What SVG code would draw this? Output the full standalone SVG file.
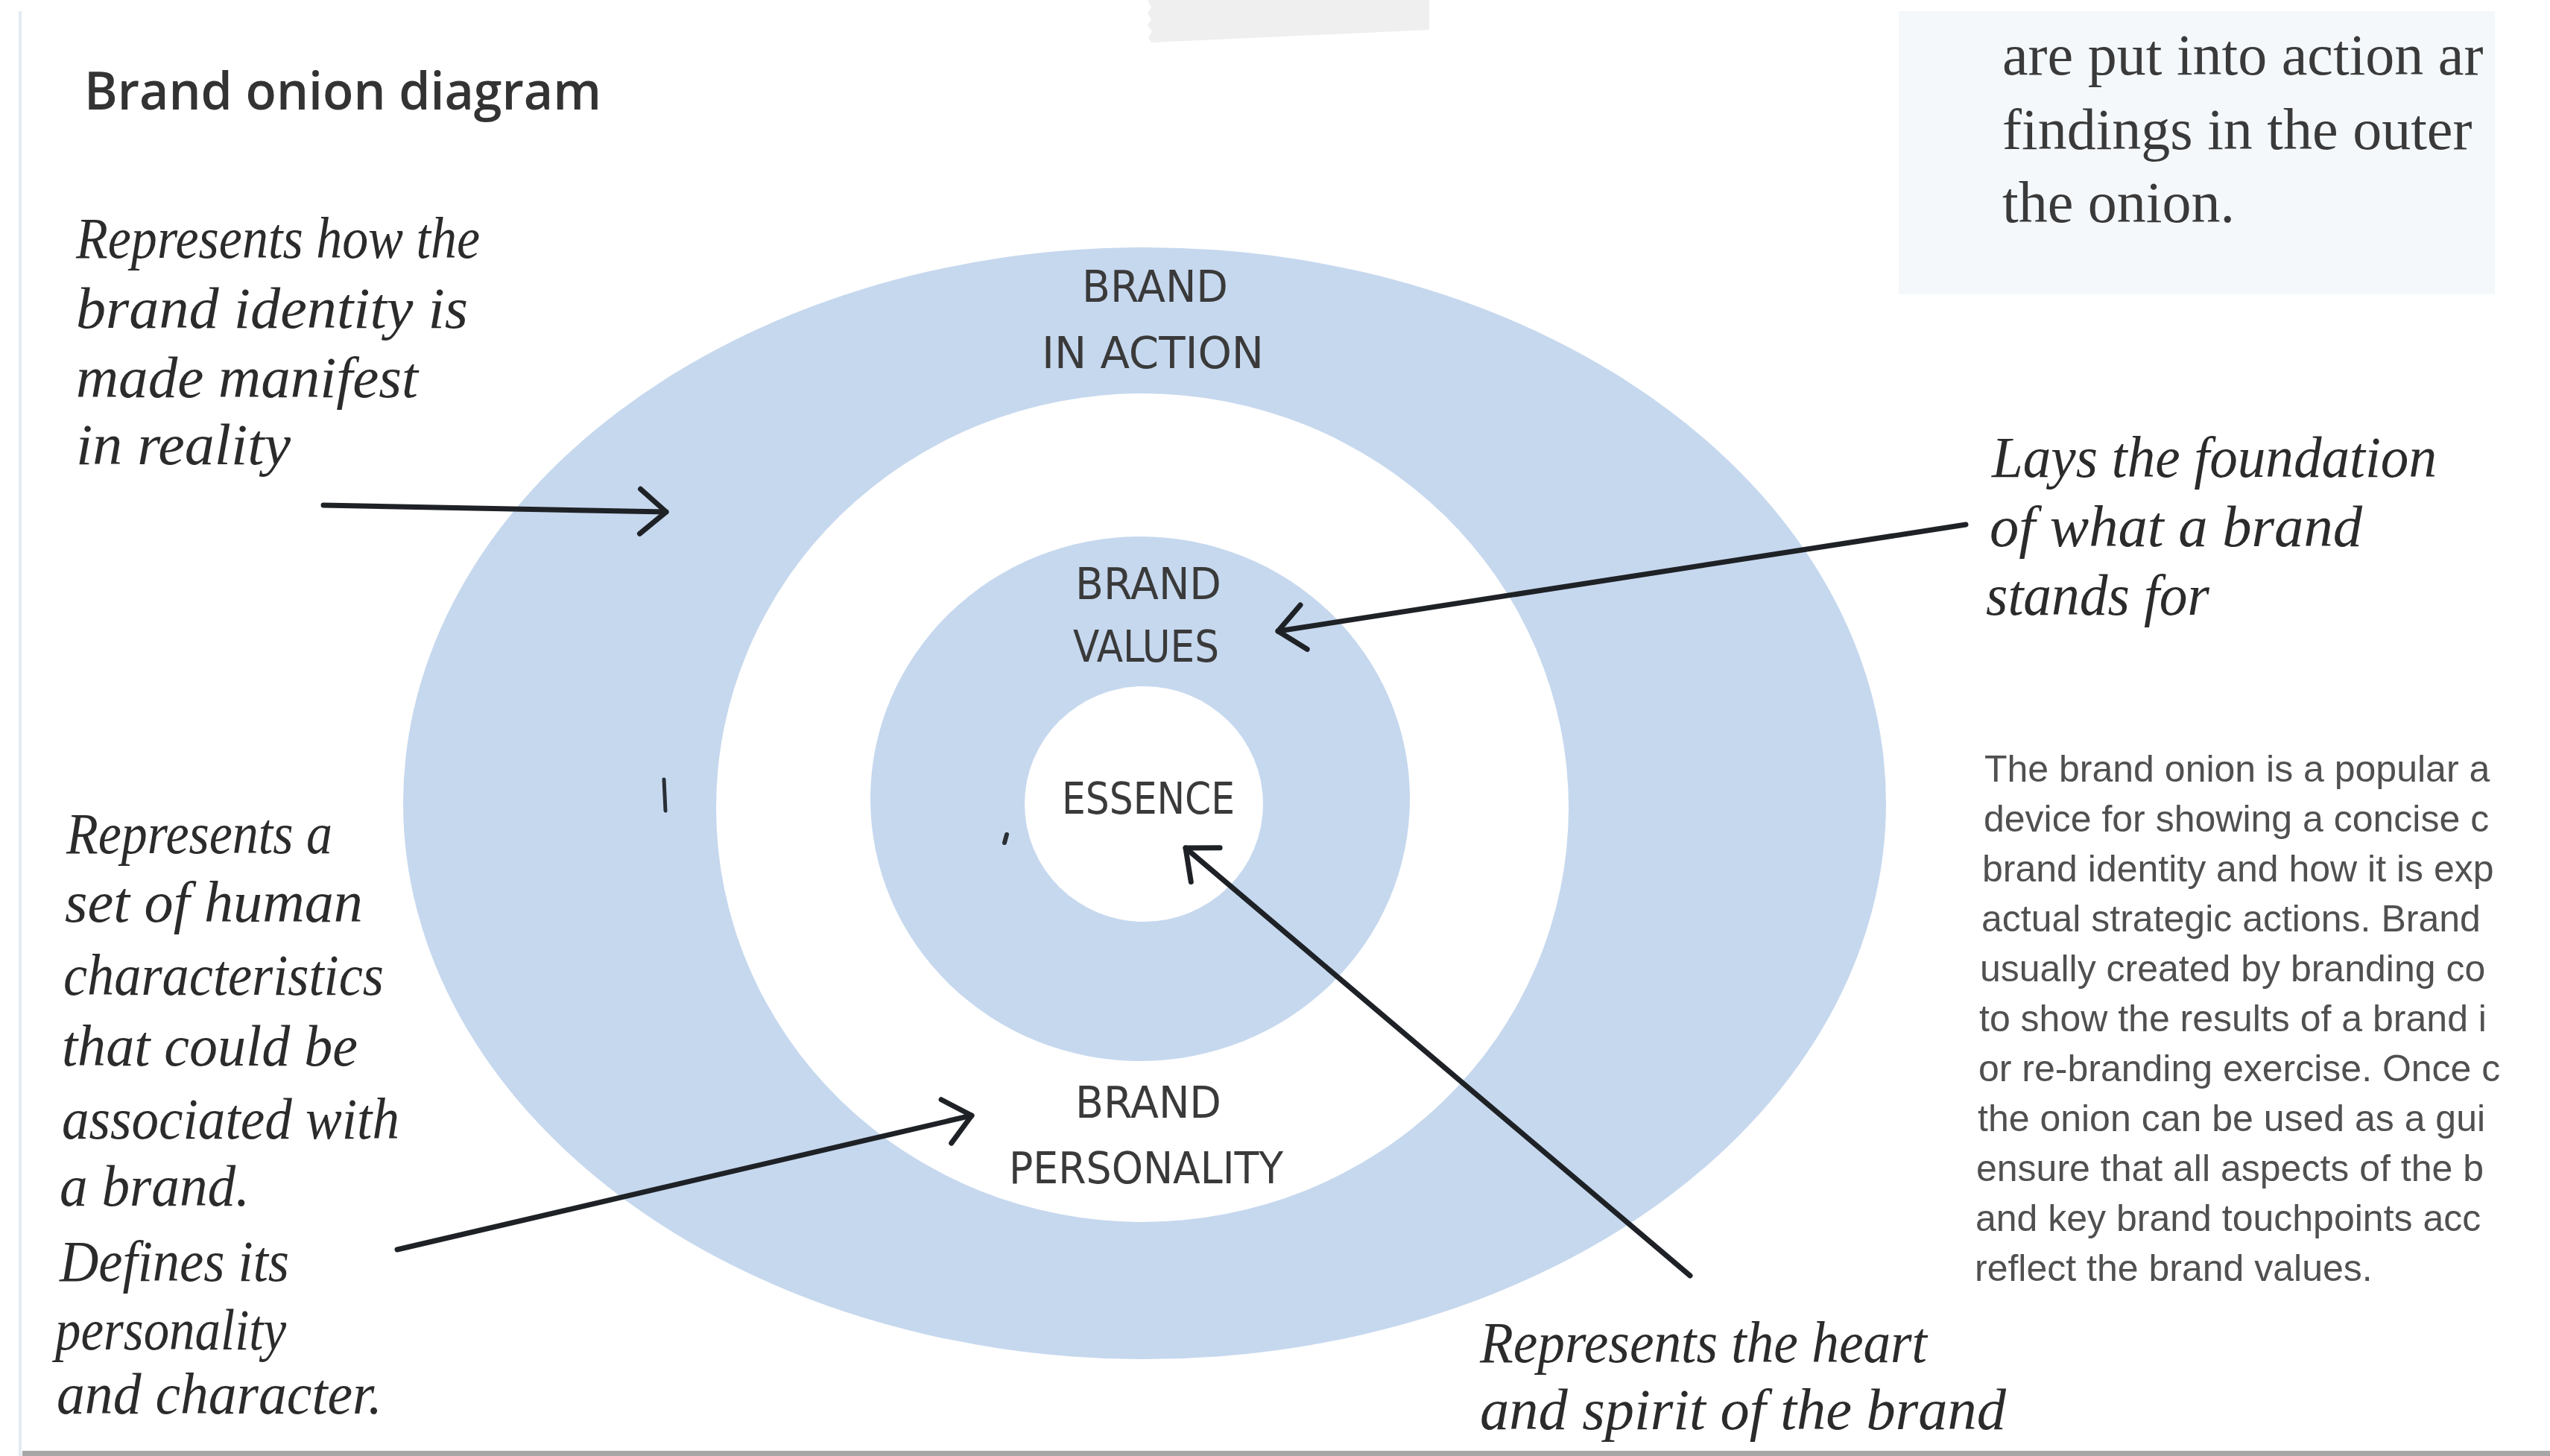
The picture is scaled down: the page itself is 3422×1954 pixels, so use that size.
<svg xmlns="http://www.w3.org/2000/svg" width="3422" height="1954" viewBox="0 0 3422 1954">
  <style>
    .ring { fill: #c6d8ee; }
    .hole { fill: #ffffff; }
    .hand { font-family: "Liberation Serif", "DejaVu Serif", serif; font-style: italic; font-size: 78px; fill: #2b2b2b; }
    .caps { font-family: "Liberation Sans Narrow", "DejaVu Sans Condensed", "Liberation Sans", sans-serif; font-size: 58px; fill: #3a3a3a; text-anchor: middle; }
    .title { font-family: "Open Sans", "Liberation Sans", sans-serif; font-weight: 600; font-size: 70px; fill: #333333; }
    .bookserif { font-family: "Liberation Serif", "DejaVu Serif", serif; font-size: 78px; fill: #3a3a3a; }
    .body { font-family: "Liberation Sans", Arial, sans-serif; font-size: 50px; fill: #505050; }
    .arrow { fill: none; stroke: #1e2226; stroke-width: 7; stroke-linecap: round; marker-end: url(#chevron); }
  </style>
  <defs>
    <marker id="chevron" markerUnits="userSpaceOnUse" markerWidth="90" markerHeight="90" viewBox="-50 -45 60 90" refX="0" refY="0" orient="auto">
      <path d="M -35 -30 L 0 0 L -35 30" fill="none" stroke="#1e2226" stroke-width="7" stroke-linecap="round" stroke-linejoin="round"/>
    </marker>
  </defs>

  <!-- page -->
  <rect x="0" y="0" width="3422" height="1954" fill="#ffffff"/>
  <rect x="25" y="15" width="4" height="1939" fill="#e4ebf2"/>
  <path d="M1540 0 L1918 0 L1918 40 L1545 57 L1541 50 L1546 42 L1540 34 L1545 26 L1540 18 L1545 10 Z" fill="#efefef"/>
  <rect x="30" y="1947" width="3392" height="7" fill="#a6a6a6"/>

  <!-- heading -->
  <g id="title">
    <text class="title" x="113" y="147" textLength="694" lengthAdjust="spacingAndGlyphs">Brand onion diagram</text>
  </g>

  <!-- onion layers -->
  <g id="brand-in-action">
    <ellipse class="ring" cx="1536" cy="1078" rx="995" ry="746"/>
    <text class="caps" x="1550" y="405" textLength="196" lengthAdjust="spacingAndGlyphs">BRAND</text>
    <text class="caps" x="1547" y="494" textLength="298" lengthAdjust="spacingAndGlyphs">IN ACTION</text>
  </g>
  <g id="brand-personality">
    <ellipse class="hole" cx="1533" cy="1084" rx="572" ry="556"/>
    <text class="caps" x="1541" y="1500" textLength="196" lengthAdjust="spacingAndGlyphs">BRAND</text>
    <text class="caps" x="1538" y="1588" textLength="368" lengthAdjust="spacingAndGlyphs">PERSONALITY</text>
  </g>
  <g id="brand-values">
    <ellipse class="ring" cx="1530" cy="1072" rx="362" ry="352"/>
    <text class="caps" x="1541" y="804" textLength="196" lengthAdjust="spacingAndGlyphs">BRAND</text>
    <text class="caps" x="1538" y="888" textLength="196" lengthAdjust="spacingAndGlyphs">VALUES</text>
  </g>
  <g id="essence">
    <ellipse class="hole" cx="1535" cy="1079" rx="160" ry="158"/>
    <text class="caps" x="1541" y="1092" textLength="232" lengthAdjust="spacingAndGlyphs">ESSENCE</text>
  </g>

  <!-- small pen marks on the rings -->
  <path d="M891 1046 L893 1088" stroke="#2a2f35" stroke-width="5" stroke-linecap="round"/>
  <path d="M1351 1120 L1348 1131" stroke="#2a2f35" stroke-width="6" stroke-linecap="round"/>

  <!-- connectors -->
  <g id="connectors">
    <line class="arrow" x1="434" y1="678" x2="894" y2="687"/>
    <line class="arrow" x1="2638" y1="704" x2="1715" y2="847"/>
    <line class="arrow" x1="2268" y1="1712" x2="1591" y2="1138"/>
    <line class="arrow" x1="533" y1="1677" x2="1304" y2="1497"/>
  </g>

  <!-- annotations -->
  <g id="note-action">
    <text class="hand" x="102" y="346" textLength="542" lengthAdjust="spacingAndGlyphs">Represents how the</text>
    <text class="hand" x="102" y="440" textLength="526" lengthAdjust="spacingAndGlyphs">brand identity is</text>
    <text class="hand" x="102" y="533" textLength="459" lengthAdjust="spacingAndGlyphs">made manifest</text>
    <text class="hand" x="102" y="623" textLength="288" lengthAdjust="spacingAndGlyphs">in reality</text>
  </g>
  <g id="note-values">
    <text class="hand" x="2673" y="640" textLength="597" lengthAdjust="spacingAndGlyphs">Lays the foundation</text>
    <text class="hand" x="2670" y="733" textLength="500" lengthAdjust="spacingAndGlyphs">of what a brand</text>
    <text class="hand" x="2665" y="825" textLength="300" lengthAdjust="spacingAndGlyphs">stands for</text>
  </g>
  <g id="note-personality">
    <text class="hand" x="89" y="1145" textLength="357" lengthAdjust="spacingAndGlyphs">Represents a</text>
    <text class="hand" x="87" y="1237" textLength="400" lengthAdjust="spacingAndGlyphs">set of human</text>
    <text class="hand" x="85" y="1335" textLength="430" lengthAdjust="spacingAndGlyphs">characteristics</text>
    <text class="hand" x="83" y="1430" textLength="397" lengthAdjust="spacingAndGlyphs">that could be</text>
    <text class="hand" x="83" y="1528" textLength="453" lengthAdjust="spacingAndGlyphs">associated with</text>
    <text class="hand" x="80" y="1618" textLength="255" lengthAdjust="spacingAndGlyphs">a brand.</text>
    <text class="hand" x="80" y="1719" textLength="308" lengthAdjust="spacingAndGlyphs">Defines its</text>
    <text class="hand" x="74" y="1811" textLength="310" lengthAdjust="spacingAndGlyphs">personality</text>
    <text class="hand" x="76" y="1897" textLength="437" lengthAdjust="spacingAndGlyphs">and character.</text>
  </g>
  <g id="note-essence">
    <text class="hand" x="1986" y="1828" textLength="600" lengthAdjust="spacingAndGlyphs">Represents the heart</text>
    <text class="hand" x="1986" y="1918" textLength="706" lengthAdjust="spacingAndGlyphs">and spirit of the brand</text>
  </g>

  <!-- side panel (top right) -->
  <g id="side-panel">
    <rect x="2548" y="15" width="800" height="380" fill="#f4f8fb"/>
    <text class="bookserif" x="2687" y="100">are put into action ar</text>
    <text class="bookserif" x="2687" y="200">findings in the outer</text>
    <text class="bookserif" x="2687" y="298">the onion.</text>
  </g>

  <!-- body copy (right column) -->
  <g id="body-copy">
    <text class="body" x="2663" y="1049">The brand onion is a popular a</text>
    <text class="body" x="2662" y="1116">device for showing a concise c</text>
    <text class="body" x="2660" y="1183">brand identity and how it is exp</text>
    <text class="body" x="2659" y="1250">actual strategic actions. Brand</text>
    <text class="body" x="2657" y="1317">usually created by branding co</text>
    <text class="body" x="2656" y="1384">to show the results of a brand i</text>
    <text class="body" x="2655" y="1451">or re-branding exercise. Once c</text>
    <text class="body" x="2654" y="1518">the onion can be used as a gui</text>
    <text class="body" x="2652" y="1585">ensure that all aspects of the b</text>
    <text class="body" x="2651" y="1652">and key brand touchpoints acc</text>
    <text class="body" x="2650" y="1719">reflect the brand values.</text>
  </g>
</svg>
